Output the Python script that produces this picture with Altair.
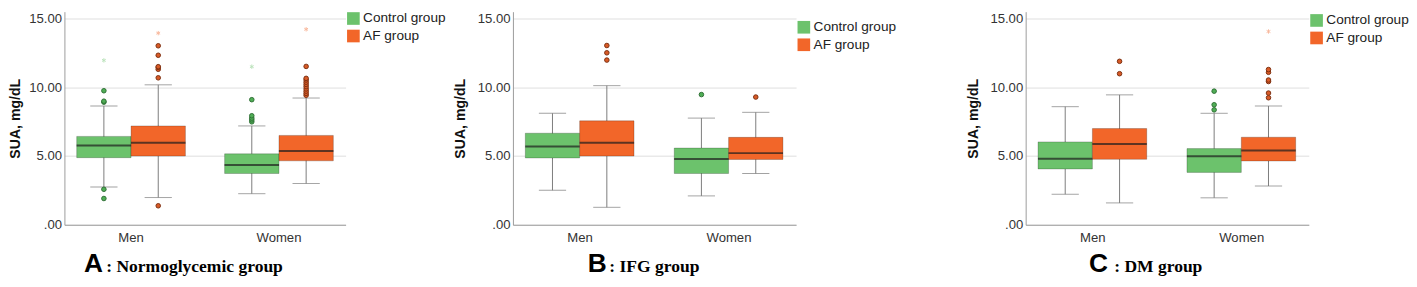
import altair as alt
import pandas as pd

sexes = ["Men", "Women"]
groups = ["Control group", "AF group"]
y_ticks = [0, 5, 10, 15]
panel_letters = ["A", "B", "C"]
panel_names = [": Normoglycemic group", ": IFG group", ": DM group"]

# box order in every panel: Men-Control, Men-AF, Women-Control, Women-AF
box_sex = ["Men", "Men", "Women", "Women"]
box_group = ["Control group", "AF group", "Control group", "AF group"]

# Panel A: Normoglycemic
q1_A = [4.88, 5.00, 3.73, 4.65]
med_A = [5.76, 5.97, 4.35, 5.37]
q3_A = [6.43, 7.19, 5.16, 6.50]
lo_A = [2.74, 1.98, 2.26, 3.00]
hi_A = [8.64, 10.18, 7.19, 9.22]
out_A = [[2.58, 1.91, 8.92, 8.99, 9.75],
         [1.38, 10.69, 11.31, 11.45, 11.50, 12.33, 13.02],
         [7.49, 7.63, 7.76, 7.93, 9.10],
         [9.42, 9.56, 9.72, 9.88, 10.05, 10.21, 10.37, 10.53, 10.65, 11.52]]
ext_A = [[11.96], [13.94], [11.50], [14.22]]

# Panel B: IFG
q1_B = [4.86, 5.00, 3.73, 4.75]
med_B = [5.69, 5.97, 4.79, 5.21]
q3_B = [6.66, 7.56, 5.58, 6.36]
lo_B = [2.51, 1.27, 2.10, 3.73]
hi_B = [8.11, 10.12, 7.76, 8.18]
out_B = [[], [11.98, 12.51, 13.04], [9.47], [9.29]]
ext_B = [[], [], [], []]

# Panel C: DM
q1_C = [4.06, 4.76, 3.81, 4.64]
med_C = [4.80, 5.87, 4.99, 5.40]
q3_C = [6.03, 7.00, 5.54, 6.37]
lo_C = [2.22, 1.59, 1.96, 2.82]
hi_C = [8.59, 9.45, 8.11, 8.64]
out_C = [[], [10.99, 11.89], [8.36, 8.73, 9.72],
         [9.24, 9.58, 10.42, 10.53, 11.09, 11.29]]
ext_C = [[], [], [], [14.06]]

BOX_COLORS = ["#6cc26c", "#f26629"]
OUT_FILL = ["#4fae55", "#d85a26"]
OUT_STROKE = ["#2f6f35", "#7c2f10"]
ASTERISK = "M0,-1L0,1M-0.866,-0.5L0.866,0.5M-0.866,0.5L0.866,-0.5"
H = 219
SANS = "Liberation Sans, Arial, sans-serif"
SERIF = "Liberation Serif, Times New Roman, serif"


def long_rows(lists):
    rows = [(s, g, v) for s, g, vals in zip(box_sex, box_group, lists) for v in vals]
    return pd.DataFrame(rows, columns=["sex", "group", "v"])


def panel(i, W, q1, med, q3, lo, hi, outs, exts, legend_y, title_pad,
          letter_x, name_x, spacer_x=None):
    box = pd.DataFrame({"sex": box_sex, "group": box_group, "q1": q1,
                        "med": med, "q3": q3, "lo": lo, "hi": hi})
    out_df = long_rows(outs)
    ext_df = long_rows(exts)
    lab = pd.DataFrame({"letter": [panel_letters[i]], "name": [panel_names[i]]})

    x = alt.X("sex:N", scale=alt.Scale(domain=sexes, paddingInner=0.265, paddingOuter=0.083),
              axis=alt.Axis(title=None, labelAngle=0, ticks=False, labelPadding=6,
                            labelFontSize=13.5, labelColor="#333", labelFont=SANS,
                            domainColor="#9a9a9a", grid=False))
    xo = alt.XOffset("group:N", scale=alt.Scale(domain=groups, paddingInner=0, paddingOuter=0))
    yscale = alt.Scale(domain=[0, 15.5], nice=False, zero=True)
    yaxis = alt.Axis(values=y_ticks, title="SUA, mg/dL", titleFontWeight="bold",
                     titleFontSize=14.5, titleFont=SANS, titleColor="#111", titlePadding=title_pad,
                     labelExpr="datum.value == 0 ? '.00' : format(datum.value, '.2f')",
                     labelFontSize=13.5, labelColor="#333", labelFont=SANS, labelPadding=3,
                     ticks=False, grid=True, gridColor="#dedede", domainColor="#9a9a9a")

    base = alt.Chart(box).encode(x=x, xOffset=xo)
    whisk = base.mark_rule(color="#7a7a7a", strokeWidth=1).encode(
        y=alt.Y("lo:Q", scale=yscale, axis=yaxis), y2="hi:Q")
    bars = base.mark_bar(stroke="black", strokeOpacity=0.22, strokeWidth=1).encode(
        y=alt.Y("q1:Q", scale=yscale), y2="q3:Q",
        color=alt.Color("group:N", scale=alt.Scale(domain=groups, range=BOX_COLORS),
                        legend=alt.Legend(title=None, orient="none", legendX=W + 1,
                                          legendY=legend_y, symbolType="square",
                                          symbolSize=169, symbolStrokeWidth=0,
                                          labelFontSize=14, labelFont=SANS, labelColor="#222",
                                          labelOffset=3, rowPadding=4, padding=0)))
    medians = base.mark_tick(color="#1e1e1e", size=56, thickness=2).encode(
        y=alt.Y("med:Q", scale=yscale))
    cap_lo = base.mark_tick(color="#7a7a7a", size=28, thickness=1).encode(
        y=alt.Y("lo:Q", scale=yscale))
    cap_hi = base.mark_tick(color="#7a7a7a", size=28, thickness=1).encode(
        y=alt.Y("hi:Q", scale=yscale))
    outl = alt.Chart(out_df).mark_point(shape="circle", filled=True, size=22,
                                        strokeWidth=1, opacity=1).encode(
        x=x, xOffset=xo, y=alt.Y("v:Q", scale=yscale),
        fill=alt.Fill("group:N", scale=alt.Scale(domain=groups, range=OUT_FILL), legend=None),
        stroke=alt.Stroke("group:N", scale=alt.Scale(domain=groups, range=OUT_STROKE), legend=None))
    extr = alt.Chart(ext_df).mark_point(shape=ASTERISK, filled=False, size=20,
                                        strokeWidth=1, opacity=0.45).encode(
        x=x, xOffset=xo, y=alt.Y("v:Q", scale=yscale),
        color=alt.Color("group:N", scale=alt.Scale(domain=groups, range=BOX_COLORS)))
    letter = alt.Chart(lab).mark_text(font=SANS, fontWeight="bold", fontSize=27, align="left",
                                      baseline="alphabetic", color="#000").encode(
        text="letter:N", x=alt.value(letter_x), y=alt.value(H + 49))
    name = alt.Chart(lab).mark_text(font=SERIF, fontWeight="bold", fontSize=18, align="left",
                                    baseline="alphabetic", color="#000").encode(
        text="name:N", x=alt.value(name_x), y=alt.value(H + 49))
    layers = [whisk, bars, medians, cap_lo, cap_hi, outl, extr, letter, name]
    if spacer_x is not None:
        spacer = alt.Chart(lab).mark_rule(strokeOpacity=0).encode(
            x=alt.value(spacer_x), y=alt.value(0), y2=alt.value(1))
        layers.append(spacer)
    return alt.layer(*layers).properties(width=W, height=H)


pA = panel(0, 289, q1_A, med_A, q3_A, lo_A, hi_A, out_A, ext_A, legend_y=0, title_pad=6,
           letter_x=20, name_x=43)
pB = panel(1, 291, q1_B, med_B, q3_B, lo_B, hi_B, out_B, ext_B, legend_y=9, title_pad=10,
           letter_x=77, name_x=99, spacer_x=458)
pC = panel(2, 291, q1_C, med_C, q3_C, lo_C, hi_C, out_C, ext_C, legend_y=2, title_pad=10,
           letter_x=65, name_x=91)

chart = alt.hconcat(pA, pB, pC, spacing=7).resolve_scale(
    color="independent", fill="independent", stroke="independent",
    x="independent", y="independent"
).resolve_legend(color="independent").configure_view(strokeWidth=0).properties(
    padding={"left": 0, "top": 0, "right": 0, "bottom": 0})

chart.save("out.html", embed_options={"renderer": "svg", "actions": False})
